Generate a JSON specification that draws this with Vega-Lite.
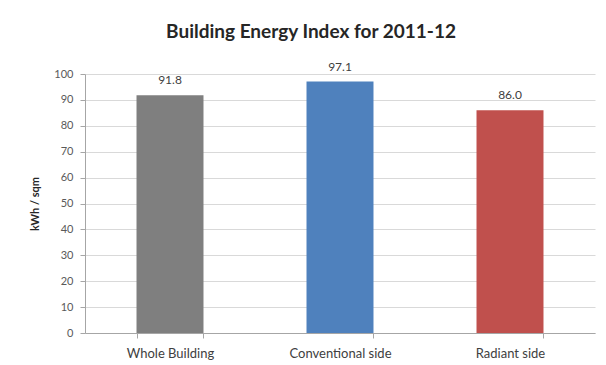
{
  "$schema": "https://vega.github.io/schema/vega-lite/v6.json",
  "autosize": "none",
  "width": 510,
  "height": 259,
  "padding": {"left": 85, "top": 74, "right": 11, "bottom": 32},
  "background": "white",
  "config": {
    "font": "Lato",
    "view": {"stroke": null}
  },
  "title": {
    "text": "Building Energy Index for 2011-12",
    "font": "Lato",
    "fontSize": 19,
    "fontWeight": "bold",
    "color": "#262626",
    "anchor": "middle",
    "frame": "group",
    "dx": -29,
    "baseline": "alphabetic",
    "offset": 4
  },
  "data": {
    "values": [
      {"category": "Whole Building", "value": 91.8},
      {"category": "Conventional side", "value": 97.1},
      {"category": "Radiant side", "value": 86.0}
    ]
  },
  "encoding": {
    "x": {
      "field": "category",
      "type": "nominal",
      "sort": null,
      "scale": {"paddingInner": 0.606, "paddingOuter": 0.303},
      "axis": {
        "title": null,
        "labelAngle": 0,
        "labelFontSize": 13,
        "labelColor": "#404040",
        "labelPadding": 9,
        "tickBand": "extent",
        "tickSize": 5,
        "tickColor": "#a6a6a6",
        "domainColor": "#a6a6a6",
        "grid": false
      }
    },
    "y": {
      "field": "value",
      "type": "quantitative",
      "scale": {"domain": [0, 100], "nice": false},
      "axis": {
        "title": "kWh / sqm",
        "titleFontSize": 11,
        "titleFontWeight": "bold",
        "titleColor": "#262626",
        "titleX": -45,
        "titleY": 129.5,
        "values": [0, 10, 20, 30, 40, 50, 60, 70, 80, 90, 100],
        "labelFontSize": 11,
        "labelColor": "#595959",
        "labelPadding": 7,
        "tickSize": 5,
        "tickColor": "#a6a6a6",
        "domainColor": "#a6a6a6",
        "gridColor": "#d9d9d9",
        "grid": true
      }
    }
  },
  "layer": [
    {
      "mark": {"type": "bar"},
      "encoding": {
        "color": {
          "field": "category",
          "type": "nominal",
          "legend": null,
          "scale": {
            "domain": ["Whole Building", "Conventional side", "Radiant side"],
            "range": ["#7f7f7f", "#4f81bd", "#c0504d"]
          }
        }
      }
    },
    {
      "mark": {"type": "text", "baseline": "bottom", "dy": -8, "fontSize": 12, "color": "#404040"},
      "encoding": {
        "text": {"field": "value", "type": "quantitative", "format": ".1f"}
      }
    }
  ]
}
